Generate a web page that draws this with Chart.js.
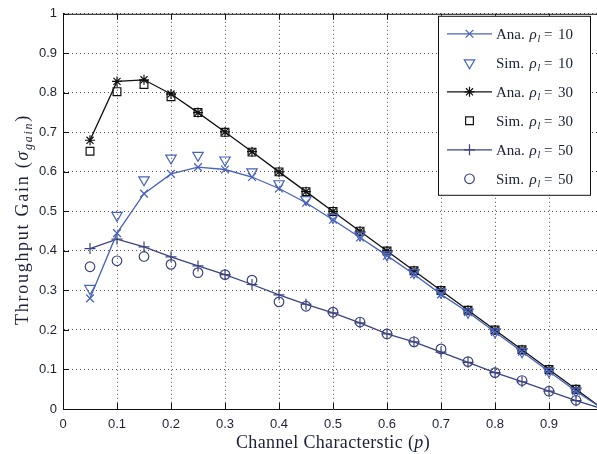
<!DOCTYPE html>
<html>
<head>
<meta charset="utf-8">
<script src="https://cdn.jsdelivr.net/npm/chart.js@4/dist/chart.umd.min.js"></script>
<style>
  html, body { margin: 0; padding: 0; background: #fff; overflow: hidden; }
  canvas { display: block; }
</style>
</head>
<body>
<canvas id="gainChart" width="620" height="454"></canvas>
<script>
"use strict";

// 1: data -- channel characteristic p and throughput gain per series
const pValues = [0.05, 0.1, 0.15, 0.2, 0.25, 0.3, 0.35, 0.4, 0.45, 0.5,
                 0.55, 0.6, 0.65, 0.7, 0.75, 0.8, 0.85, 0.9, 0.95, 1.0];

const anaRho10 = [0.28, 0.445, 0.545, 0.595, 0.612, 0.606, 0.587, 0.558, 0.522, 0.479,
                  0.434, 0.388, 0.341, 0.29, 0.245, 0.195, 0.145, 0.095, 0.045, 0];
const simRho10 = [0.305, 0.49, 0.58, 0.635, 0.642, 0.63, 0.60, 0.57, 0.53, 0.485,
                  0.44, 0.39, 0.345, 0.295, 0.245, 0.195, 0.145, 0.095, 0.045];
const anaRho30 = [0.68, 0.829, 0.833, 0.797, 0.75, 0.701, 0.651, 0.60, 0.55, 0.50,
                  0.45, 0.40, 0.35, 0.30, 0.25, 0.20, 0.15, 0.10, 0.05, 0];
const simRho30 = [0.652, 0.803, 0.821, 0.79, 0.75, 0.70, 0.65, 0.60, 0.55, 0.50,
                  0.45, 0.40, 0.35, 0.30, 0.25, 0.20, 0.15, 0.10, 0.05];
const anaRho50 = [0.406, 0.43, 0.41, 0.385, 0.362, 0.34, 0.315, 0.289, 0.265, 0.243,
                  0.218, 0.19, 0.17, 0.144, 0.118, 0.092, 0.069, 0.045, 0.021, 0];
const simRho50 = [0.36, 0.375, 0.386, 0.366, 0.345, 0.34, 0.326, 0.271, 0.26, 0.245,
                  0.22, 0.19, 0.17, 0.152, 0.12, 0.092, 0.072, 0.045, 0.022];

const xTicks = [0, 0.1, 0.2, 0.3, 0.4, 0.5, 0.6, 0.7, 0.8, 0.9, 1];
const yTicks = [0, 0.1, 0.2, 0.3, 0.4, 0.5, 0.6, 0.7, 0.8, 0.9, 1];

const seriesNames = ['Ana.', 'Sim.', 'Ana.', 'Sim.', 'Ana.', 'Sim.'];
const seriesRho = ['10', '10', '30', '30', '50', '50'];

const BLUE = '#4862bd';
const BLACK = '#111111';
const NAVY = '#3c4380';
const INK = '#1b2036';

// 2: turn the arrays into {x, y} points
function toPoints(values) {
  return values.map((v, i) => ({ x: pValues[i], y: v }));
}

function lineSet(values, color, style, radius) {
  return {
    data: toPoints(values),
    showLine: true,
    borderColor: color,
    backgroundColor: 'rgba(0,0,0,0)',
    borderWidth: 1.3,
    pointStyle: style,
    pointRadius: radius,
    pointBorderWidth: 1.2,
    pointBorderColor: color,
    pointBackgroundColor: 'rgba(0,0,0,0)'
  };
}

function markerSet(values, color, style, radius, rotation) {
  return {
    data: toPoints(values),
    showLine: false,
    borderColor: color,
    backgroundColor: 'rgba(0,0,0,0)',
    pointStyle: style,
    pointRadius: radius,
    pointRotation: rotation || 0,
    pointBorderWidth: 1.2,
    pointBorderColor: color,
    pointBackgroundColor: 'rgba(0,0,0,0)'
  };
}

// box edges and inward ticks, MATLAB style
const frameTicks = {
  id: 'frameTicks',
  beforeDatasetsDraw(chart) {
    const { ctx, chartArea: a, scales: { x, y } } = chart;
    ctx.save();
    ctx.strokeStyle = BLACK;
    ctx.lineWidth = 1;
    ctx.beginPath();
    ctx.moveTo(a.left, a.top + 0.5);
    ctx.lineTo(a.right, a.top + 0.5);
    ctx.moveTo(a.right - 0.5, a.top);
    ctx.lineTo(a.right - 0.5, a.bottom);
    for (const v of xTicks) {
      const px = Math.round(x.getPixelForValue(v)) + 0.5;
      ctx.moveTo(px, a.bottom);
      ctx.lineTo(px, a.bottom - 6);
      ctx.moveTo(px, a.top);
      ctx.lineTo(px, a.top + 6);
    }
    for (const v of yTicks) {
      const py = Math.round(y.getPixelForValue(v)) + 0.5;
      ctx.moveTo(a.left, py);
      ctx.lineTo(a.left + 6, py);
      ctx.moveTo(a.right, py);
      ctx.lineTo(a.right - 6, py);
    }
    ctx.stroke();
    ctx.restore();
  }
};

// draws [text, font, dy] pieces in a row, spaced out to the given width
function drawRun(ctx, parts, x0, width) {
  let natural = 0, count = 0;
  for (const [t, f] of parts) {
    ctx.font = f;
    natural += ctx.measureText(t).width;
    count += t.length;
  }
  const extra = (width - natural) / count;
  let x = x0;
  for (const [t, f, dy] of parts) {
    ctx.font = f;
    for (const ch of t) {
      ctx.fillText(ch, x, dy || 0);
      x += ctx.measureText(ch).width + extra;
    }
  }
}

// axis titles with italic symbols and subscripts
const axisTitles = {
  id: 'axisTitles',
  afterDraw(chart) {
    const { ctx } = chart;
    const rm = '18px "Liberation Serif"';
    const it = 'italic 18px "Liberation Serif"';
    const sub = 'italic 12px "Liberation Serif"';
    ctx.save();
    ctx.fillStyle = INK;
    ctx.textBaseline = 'alphabetic';

    // x title
    ctx.save();
    ctx.translate(0, 448);
    drawRun(ctx, [['Channel Characterstic (', rm], ['p', it], [')', rm]], 236, 194);
    ctx.restore();

    // y title, rotated
    ctx.translate(28, 219);
    ctx.rotate(-Math.PI / 2);
    drawRun(ctx, [['Throughput Gain (', rm], ['σ', it], ['gain', sub, 4], [')', rm]], -106, 211);
    ctx.restore();
  }
};

// boxed legend in the upper right of the plot area
const boxLegend = {
  id: 'boxLegend',
  afterDraw(chart) {
    const { ctx, chartArea: a } = chart;
    const left = a.right - 165, top = a.top + 2, right = a.right - 12, bottom = a.top + 182;
    ctx.save();
    ctx.fillStyle = '#ffffff';
    ctx.fillRect(left, top, right - left, bottom - top);
    ctx.strokeStyle = BLACK;
    ctx.lineWidth = 1;
    ctx.strokeRect(left + 0.5, top + 0.5, right - left - 1, bottom - top - 1);

    chart.data.datasets.forEach((ds, i) => {
      const yRow = top + 18 + i * 29;
      const mx = left + 31.5;
      if (ds.showLine) {
        ctx.strokeStyle = ds.borderColor;
        ctx.lineWidth = ds.borderWidth;
        ctx.beginPath();
        ctx.moveTo(left + 9, yRow);
        ctx.lineTo(left + 54, yRow);
        ctx.stroke();
      }
      ctx.strokeStyle = ds.pointBorderColor;
      ctx.fillStyle = 'rgba(0,0,0,0)';
      ctx.lineWidth = ds.pointBorderWidth;
      Chart.helpers.drawPoint(ctx, {
        pointStyle: ds.pointStyle,
        rotation: ds.pointRotation || 0,
        radius: ds.pointRadius,
        borderWidth: ds.pointBorderWidth
      }, mx, yRow);

      ctx.fillStyle = INK;
      ctx.textBaseline = 'alphabetic';
      const base = yRow + 5;
      ctx.font = '15px "Liberation Serif"';
      ctx.fillText(seriesNames[i], left + 58, base);
      ctx.font = 'italic 15px "Liberation Serif"';
      ctx.fillText('ρ', left + 91.5, base);
      ctx.font = 'italic 10px "Liberation Serif"';
      ctx.fillText('l', left + 99.5, base + 3);
      ctx.font = '15px "Liberation Serif"';
      ctx.fillText('=', left + 106, base);
      ctx.fillText(seriesRho[i], left + 120, base);
    });
    ctx.restore();
  }
};

// 3: create the chart
function appendChart() {
  const canvas = document.getElementById('gainChart');
  const tickFont = { family: '"Liberation Sans", Arial, sans-serif', size: 13 };
  return new Chart(canvas, {
    type: 'scatter',
    data: {
      datasets: [
        lineSet(anaRho10, BLUE, 'crossRot', 5.5),
        markerSet(simRho10, BLUE, 'triangle', 6, 180),
        lineSet(anaRho30, BLACK, 'star', 5),
        markerSet(simRho30, BLACK, 'rect', 5.5),
        lineSet(anaRho50, NAVY, 'cross', 5.5),
        markerSet(simRho50, NAVY, 'circle', 4.8)
      ]
    },
    options: {
      responsive: false,
      animation: false,
      layout: { padding: { left: 0, top: 12, right: 17, bottom: 0 } },
      plugins: {
        legend: { display: false },
        tooltip: { enabled: false }
      },
      scales: {
        x: {
          type: 'linear',
          min: 0,
          max: 1,
          afterFit(scale) { scale.height = 45; },
          afterBuildTicks(scale) { scale.ticks = xTicks.map(v => ({ value: v })); },
          grid: { color: '#222', lineWidth: 0.8, drawTicks: false },
          border: { color: BLACK, width: 1, dash: [1, 3] },
          ticks: {
            padding: 8,
            font: tickFont,
            color: INK,
            maxRotation: 0,
            autoSkip: false,
            callback: v => String(v)
          }
        },
        y: {
          type: 'linear',
          min: 0,
          max: 1,
          afterFit(scale) { scale.width = 63; },
          afterBuildTicks(scale) { scale.ticks = yTicks.map(v => ({ value: v })); },
          grid: { color: '#222', lineWidth: 0.8, drawTicks: false },
          border: { color: BLACK, width: 1, dash: [1, 3] },
          ticks: {
            padding: 6,
            font: tickFont,
            color: INK,
            autoSkip: false,
            callback: v => String(v)
          }
        }
      }
    },
    plugins: [frameTicks, axisTitles, boxLegend]
  });
}

appendChart();
</script>
</body>
</html>
